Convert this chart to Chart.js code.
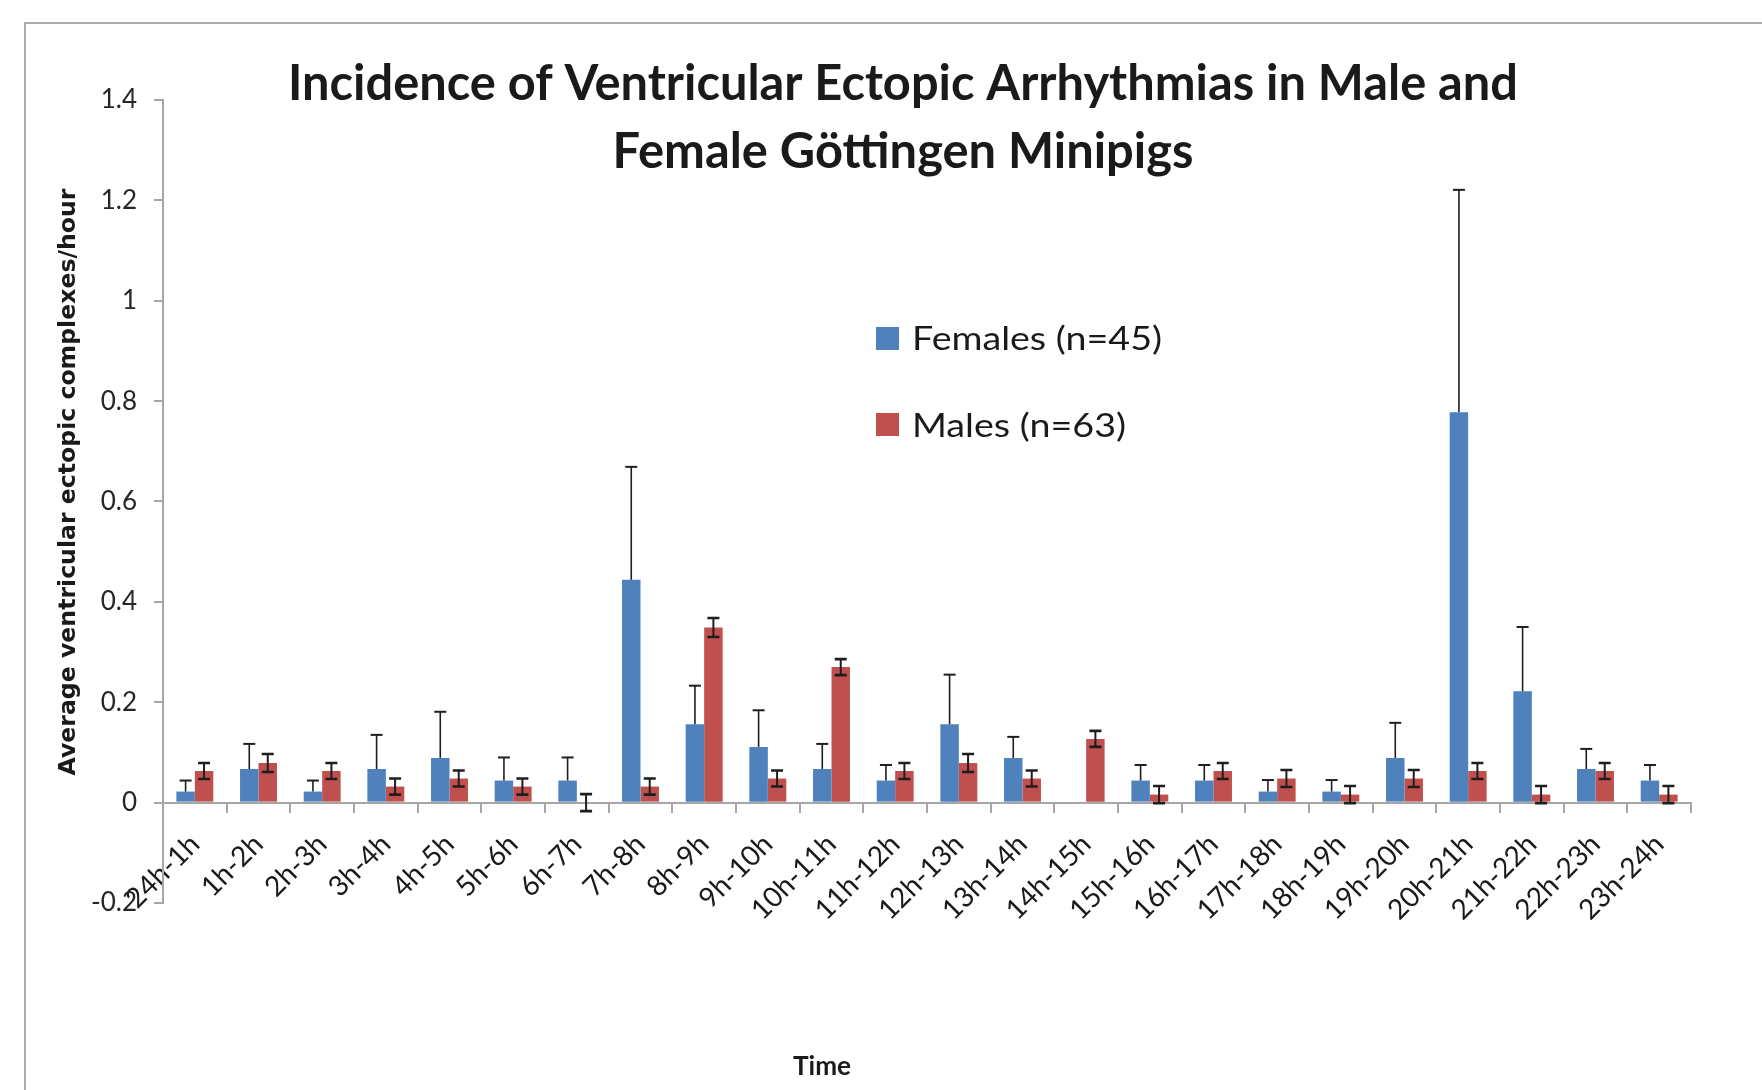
<!DOCTYPE html>
<html>
<head>
<meta charset="utf-8">
<script src="https://cdn.jsdelivr.net/npm/chart.js@4.4.1/dist/chart.umd.min.js"></script>
<style>
  html, body { margin: 0; padding: 0; background: #ffffff; overflow: hidden; }
  #wrap { position: relative; width: 1762px; height: 1090px; }
  canvas { position: absolute; left: 0; top: 0; }
</style>
</head>
<body>
<div id="wrap"><canvas id="chart" width="1762" height="1090"></canvas></div>
<script>
// ---------------- data ----------------
const categories = ['24h-1h','1h-2h','2h-3h','3h-4h','4h-5h','5h-6h','6h-7h','7h-8h','8h-9h','9h-10h','10h-11h','11h-12h',
                    '12h-13h','13h-14h','14h-15h','15h-16h','16h-17h','17h-18h','18h-19h','19h-20h','20h-21h','21h-22h','22h-23h','23h-24h'];
const femaleMeans = [0.022, 0.067, 0.022, 0.067, 0.089, 0.044, 0.044, 0.444, 0.156, 0.111, 0.067, 0.044,
                     0.156, 0.089, 0, 0.044, 0.044, 0.022, 0.022, 0.089, 0.778, 0.222, 0.067, 0.044];
const femaleErrors = [0.022, 0.050, 0.022, 0.068, 0.092, 0.046, 0.046, 0.225, 0.077, 0.073, 0.050, 0.031,
                      0.099, 0.042, 0, 0.031, 0.031, 0.023, 0.023, 0.070, 0.443, 0.128, 0.040, 0.031];
const maleMeans = [0.063, 0.079, 0.063, 0.032, 0.048, 0.032, 0, 0.032, 0.349, 0.048, 0.270, 0.063,
                   0.079, 0.048, 0.127, 0.016, 0.063, 0.048, 0.016, 0.048, 0.063, 0.016, 0.063, 0.016];
const maleErrors = [0.016, 0.018, 0.016, 0.016, 0.016, 0.016, 0.017, 0.016, 0.019, 0.016, 0.016, 0.016,
                    0.018, 0.016, 0.016, 0.017, 0.016, 0.017, 0.017, 0.017, 0.016, 0.017, 0.016, 0.017];
const seriesLabels = ['Females (n=45)', 'Males (n=63)'];
const seriesColors = ['#4F81BD', '#C0504D'];
const yTickValues = [-0.2, 0, 0.2, 0.4, 0.6, 0.8, 1, 1.2, 1.4];
const titleLines = ['Incidence of Ventricular Ectopic Arrhythmias in Male and', 'Female Göttingen Minipigs'];
const xAxisTitle = 'Time';
const yAxisTitle = 'Average ventricular ectopic complexes/hour';

// ---------------- helpers ----------------
function drawFitted(ctx, text, x, y, font, targetWidth, align) {
  ctx.font = font;
  const w = ctx.measureText(text).width;
  const sx = targetWidth / w;
  ctx.save();
  ctx.translate(x, y);
  ctx.scale(sx, 1);
  ctx.textAlign = align;
  ctx.textBaseline = 'alphabetic';
  ctx.fillText(text, 0, 0);
  ctx.restore();
}

// error bars drawn from the library's own scales
const errorBars = {
  id: 'errorBars',
  afterDatasetsDraw(chart) {
    const ctx = chart.ctx;
    const yScale = chart.scales.y;
    const errs = [femaleErrors, maleErrors];
    const both = [false, true];
    ctx.save();
    ctx.strokeStyle = '#1e1e1e';
    chart.data.datasets.forEach((ds, di) => {
      const meta = chart.getDatasetMeta(di);
      meta.data.forEach((bar, i) => {
        const v = ds.data[i];
        const e = errs[di][i];
        if (!e) return;
        const x = bar.x;
        const yTop = yScale.getPixelForValue(v + e);
        const yMid = yScale.getPixelForValue(v);
        const yBot = both[di] ? yScale.getPixelForValue(v - e) : yMid;
        const cap = 6;
        ctx.lineWidth = both[di] ? 2 : 1.6;
        ctx.beginPath();
        ctx.moveTo(x, yTop); ctx.lineTo(x, yBot);
        ctx.stroke();
        ctx.lineWidth = both[di] ? 2.6 : 2;
        ctx.beginPath();
        ctx.moveTo(x - cap, yTop); ctx.lineTo(x + cap, yTop);
        if (both[di]) { ctx.moveTo(x - cap, yBot); ctx.lineTo(x + cap, yBot); }
        ctx.stroke();
      });
    });
    ctx.restore();
  }
};

// frame, titles and legend
const decorations = {
  id: 'decorations',
  beforeDraw(chart) {
    const ctx = chart.ctx;
    ctx.save();
    ctx.strokeStyle = '#ababab';
    ctx.lineWidth = 2;
    ctx.beginPath();
    ctx.moveTo(25, chart.height + 5);
    ctx.lineTo(25, 23);
    ctx.lineTo(chart.width + 5, 23);
    ctx.stroke();
    ctx.restore();
  },
  afterDraw(chart) {
    const ctx = chart.ctx;
    ctx.save();
    ctx.fillStyle = '#1a1a1a';
    // chart title
    drawFitted(ctx, titleLines[0], 903, 100, 'bold 49px Lato', 1230, 'center');
    drawFitted(ctx, titleLines[1], 903, 168, 'bold 49px Lato', 581, 'center');
    // x axis title
    drawFitted(ctx, xAxisTitle, 822, 1075, 'bold 26px Lato', 58, 'center');
    // y axis title
    ctx.save();
    ctx.translate(75, 482);
    ctx.rotate(-Math.PI / 2);
    drawFitted(ctx, yAxisTitle, 0, 0, 'bold 23px "DejaVu Sans"', 587, 'center');
    ctx.restore();
    // legend
    const legendTops = [327, 413];
    const legendBase = [350, 437];
    const legendWidths = [250, 214];
    chart.data.datasets.forEach((ds, i) => {
      ctx.fillStyle = ds.backgroundColor;
      ctx.fillRect(876, legendTops[i], 23, 23);
      ctx.fillStyle = '#1a1a1a';
      drawFitted(ctx, ds.label, 912, legendBase[i], '32px Lato', legendWidths[i], 'left');
    });
    ctx.restore();
  }
};

const axisGray = '#a6a6a6';

new Chart(document.getElementById('chart'), {
  type: 'bar',
  data: {
    labels: categories,
    datasets: [
      { label: seriesLabels[0], data: femaleMeans, backgroundColor: seriesColors[0], borderWidth: 0 },
      { label: seriesLabels[1], data: maleMeans, backgroundColor: seriesColors[1], borderWidth: 0 }
    ]
  },
  options: {
    responsive: false,
    devicePixelRatio: 1,
    animation: false,
    layout: { padding: { left: 40, top: 100, right: 71, bottom: 187 } },
    datasets: { bar: { categoryPercentage: 0.58, barPercentage: 1.0 } },
    plugins: { legend: { display: false }, title: { display: false }, tooltip: { enabled: false } },
    scales: {
      x: {
        position: { y: 0 },
        offset: true,
        grid: { display: true, drawOnChartArea: false, drawTicks: true, tickLength: 9, color: axisGray, lineWidth: 2, offset: true },
        border: { display: true, color: axisGray, width: 2 },
        ticks: {
          autoSkip: false, minRotation: 45, maxRotation: 45, padding: 16,
          color: '#1a1a1a', font: { family: 'Lato', size: 28 }
        }
      },
      y: {
        min: -0.2, max: 1.4,
        afterFit(scale) { scale.width = 123; },
        afterBuildTicks(scale) { scale.ticks = yTickValues.map(v => ({ value: v })); },
        grid: { display: true, drawOnChartArea: false, drawTicks: true, tickLength: 9, color: axisGray, lineWidth: 2 },
        border: { display: true, color: axisGray, width: 2 },
        ticks: {
          padding: 17, color: '#262626', font: { family: 'Lato', size: 26 },
          callback: (v) => String(Math.round(v * 10) / 10)
        }
      }
    }
  },
  plugins: [errorBars, decorations]
});
</script>
</body>
</html>
